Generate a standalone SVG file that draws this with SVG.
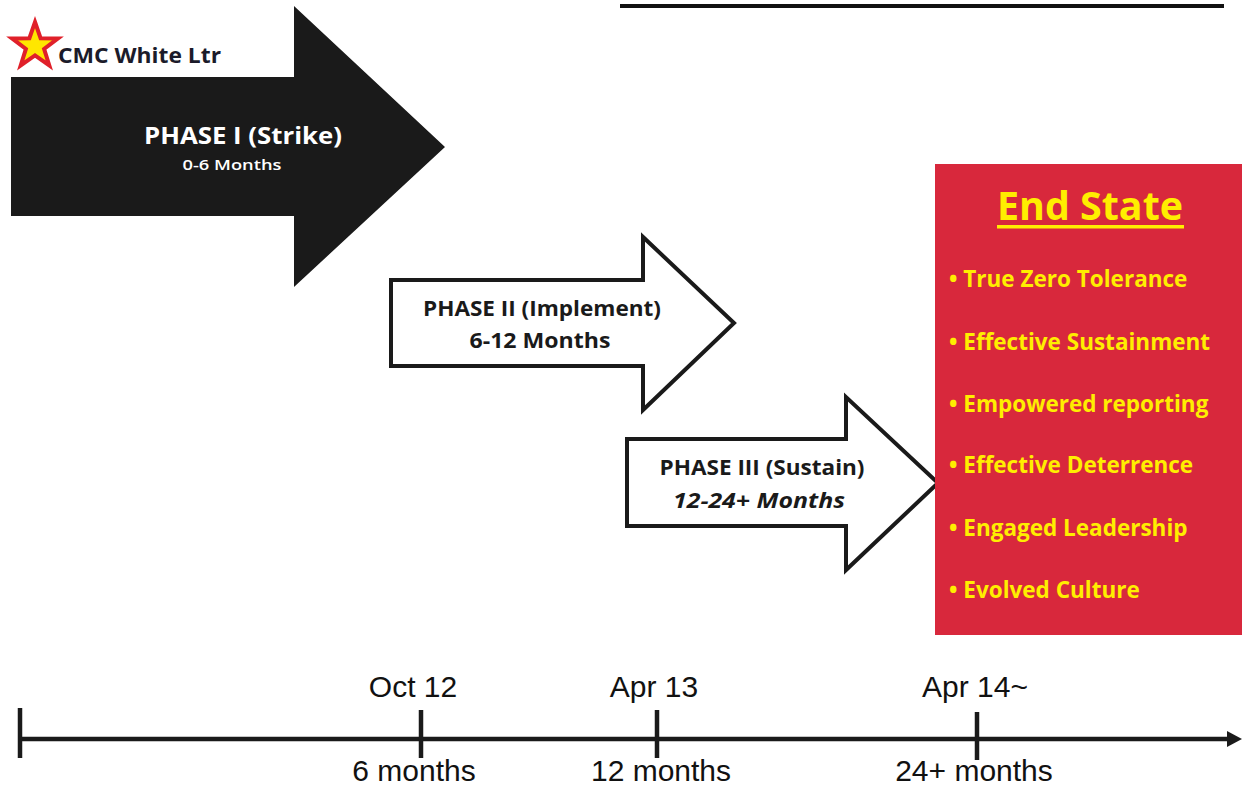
<svg xmlns="http://www.w3.org/2000/svg" width="1242" height="788" viewBox="0 0 1242 788">
<style>
.cal{font-family:"Open Sans","Liberation Sans",sans-serif;font-weight:bold}
.ph{fill:#ffffff;stroke:#1a1a1a;stroke-width:4;stroke-linejoin:miter}
.dk{fill:#1a1a1a}
.tl{font-family:"Liberation Sans",Arial,sans-serif;font-size:30px;fill:#111}
.bul{font-family:"Open Sans","Liberation Sans",sans-serif;font-weight:bold;font-size:22.5px;fill:#ffee00}
.axis{stroke:#1a1a1a;stroke-width:4.5;fill:none}
</style>
<rect width="1242" height="788" fill="#ffffff"/>
<line x1="620" y1="6" x2="1224" y2="6" stroke="#111" stroke-width="4"/>

<g id="star-label">
<polygon points="35,22 40.6,38.2 58,38.4 44.1,48.9 49.3,65.4 35,55.4 20.7,65.4 25.9,48.9 12,38.4 29.4,38.2" fill="#ffe600" stroke="#e0202a" stroke-width="4" stroke-linejoin="miter"/>
<text x="58" y="63" class="cal" font-size="22" fill="#1b1b2a" textLength="163" lengthAdjust="spacingAndGlyphs">CMC White Ltr</text>
</g>

<g id="phase1">
<polygon class="dk" points="11,77 294,77 294,6 445,147 294,287 294,216 11,216"/>
<text x="243" y="144" class="cal" font-size="24" fill="#ffffff" text-anchor="middle" textLength="198" lengthAdjust="spacingAndGlyphs">PHASE I (Strike)</text>
<text x="232" y="170" class="cal" font-size="15" fill="#ffffff" text-anchor="middle" style="font-weight:600" textLength="99" lengthAdjust="spacingAndGlyphs">0-6 Months</text>
</g>

<g id="phase2">
<polygon class="ph" points="391,280 643,280 643,237 734,323 643,410 643,366 391,366"/>
<text x="542" y="316" class="cal" font-size="22" fill="#1a1a1a" text-anchor="middle" textLength="238" lengthAdjust="spacingAndGlyphs">PHASE II (Implement)</text>
<text x="540" y="348" class="cal" font-size="22" fill="#1a1a1a" text-anchor="middle" textLength="141" lengthAdjust="spacingAndGlyphs">6-12 Months</text>
</g>

<g id="phase3">
<polygon class="ph" points="627,439 846,439 846,397 938,483 846,570 846,526 627,526"/>
<text x="762" y="475" class="cal" font-size="22" fill="#1a1a1a" text-anchor="middle" textLength="205" lengthAdjust="spacingAndGlyphs">PHASE III (Sustain)</text>
<text x="759" y="508" class="cal" font-size="22" font-style="italic" fill="#1a1a1a" text-anchor="middle" textLength="172" lengthAdjust="spacingAndGlyphs">12-24+ Months</text>
</g>

<g id="end-state">
<rect x="935" y="164" width="307" height="471" fill="#d8283c"/>
<text x="1090" y="220" class="cal" font-size="40" fill="#ffee00" text-anchor="middle" textLength="186" lengthAdjust="spacingAndGlyphs">End State</text>
<rect x="997" y="225" width="187" height="3.5" fill="#ffee00"/>
<text x="949" y="287" class="bul">• True Zero Tolerance</text>
<text x="949" y="350" class="bul">• Effective Sustainment</text>
<text x="949" y="412" class="bul">• Empowered reporting</text>
<text x="949" y="473" class="bul">• Effective Deterrence</text>
<text x="949" y="536" class="bul">• Engaged Leadership</text>
<text x="949" y="598" class="bul">• Evolved Culture</text>
</g>

<g id="connectors">
<line class="axis" x1="20" y1="739" x2="1230" y2="739"/>
<polygon points="1227,731 1242,739 1227,747" fill="#1a1a1a"/>
<line class="axis" x1="20" y1="708" x2="20" y2="758"/>
<line class="axis" x1="421" y1="710" x2="421" y2="758"/>
<line class="axis" x1="657" y1="710" x2="657" y2="758"/>
<line class="axis" x1="977" y1="712" x2="977" y2="760"/>
</g>

<g id="timeline-labels">
<text x="413" y="697" class="tl" text-anchor="middle">Oct 12</text>
<text x="654" y="697" class="tl" text-anchor="middle">Apr 13</text>
<text x="975" y="697" class="tl" text-anchor="middle">Apr 14~</text>
<text x="414" y="781" class="tl" text-anchor="middle">6 months</text>
<text x="661" y="781" class="tl" text-anchor="middle">12 months</text>
<text x="974" y="781" class="tl" text-anchor="middle">24+ months</text>
</g>
</svg>
